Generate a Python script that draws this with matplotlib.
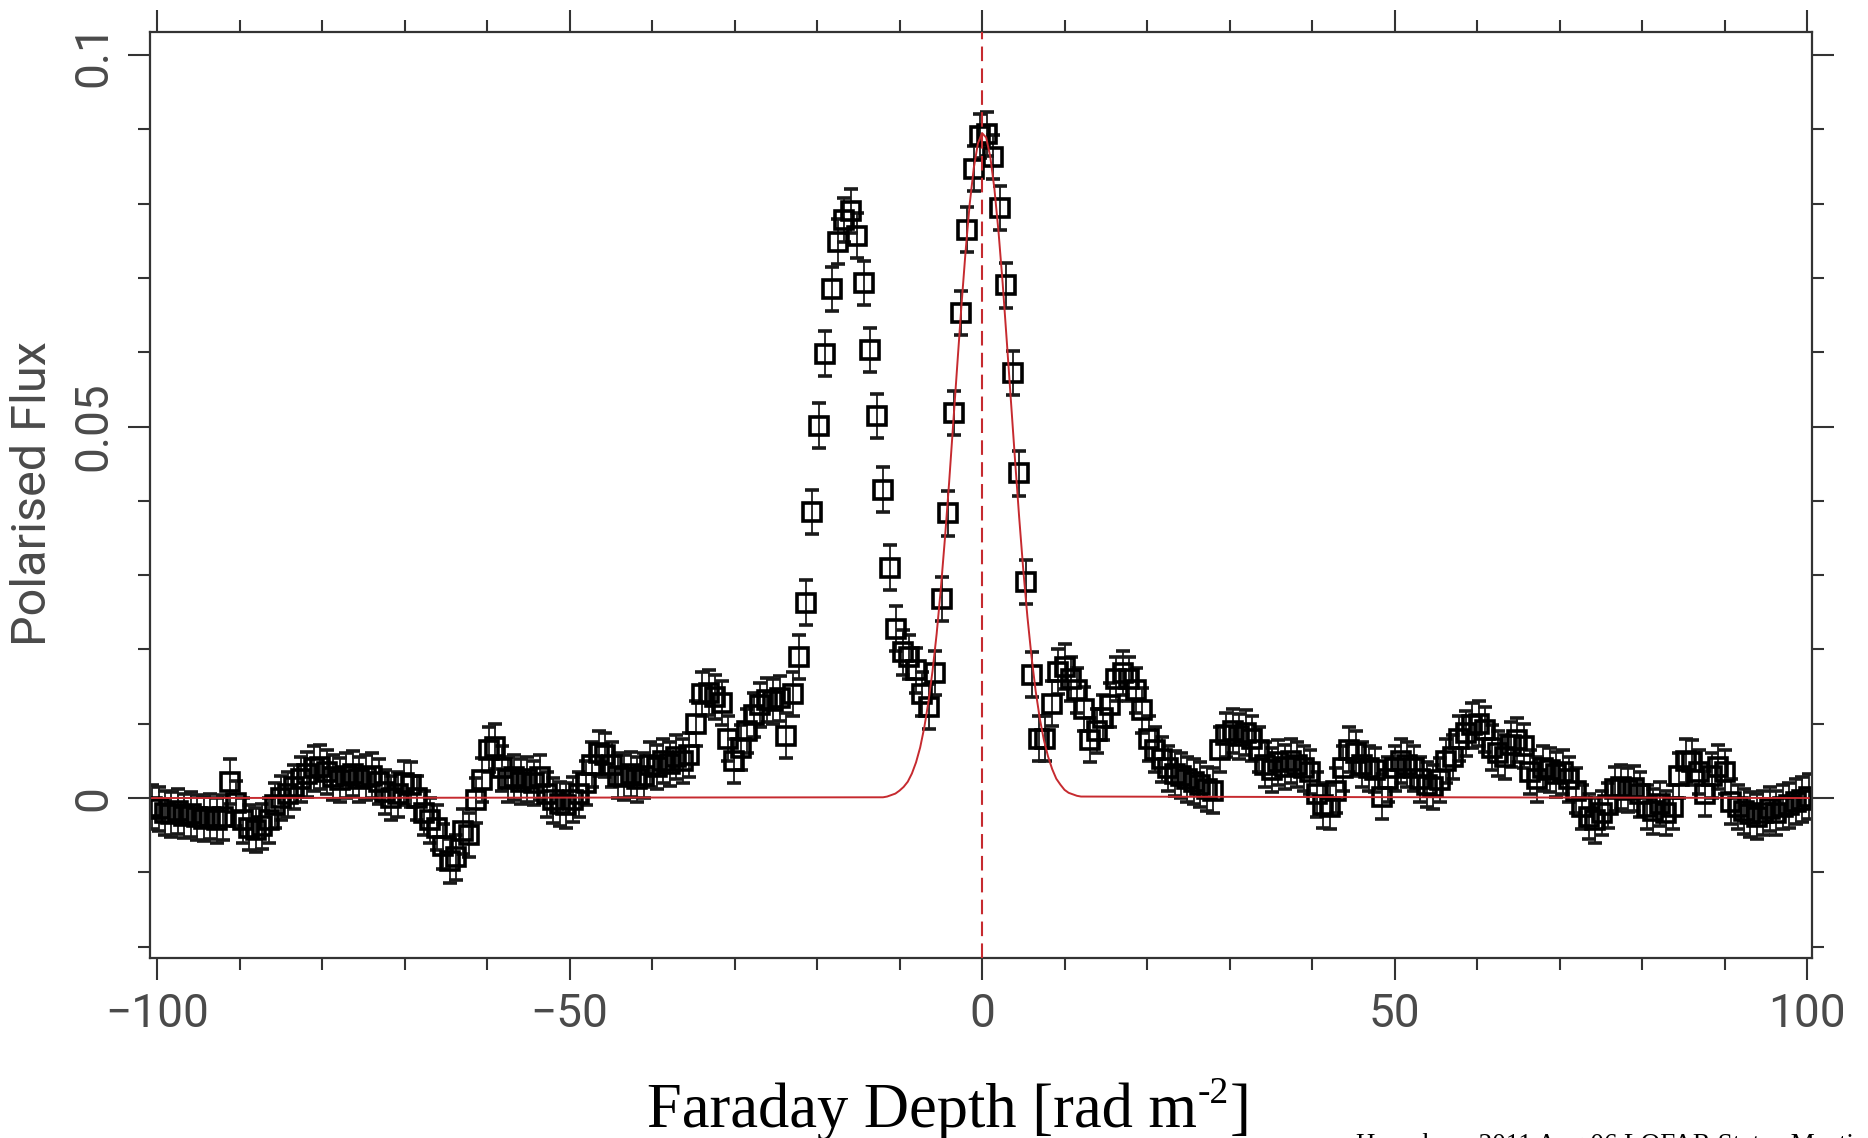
import numpy as np
import matplotlib
matplotlib.use("Agg")
import matplotlib.pyplot as plt

plt.rcParams['font.family'] = ['Roboto', 'DejaVu Sans']

# Faraday depth grid (rad m^-2), 257 samples across the plot
depth = np.linspace(-100.6, 100.2, 257)

# polarised flux
flux = [
    -0.0012, -0.0015, -0.0020, -0.0022, -0.0018, -0.0024, -0.0022, -0.0026, -0.0028, -0.0025,
    -0.0030, -0.0026, 0.0022, -0.0007, -0.0030, -0.0040, -0.0043, -0.0038, -0.0030, -0.0010,
    0.0000, 0.0005, 0.0015, 0.0025, 0.0032, 0.0040, 0.0042, 0.0035, 0.0028, 0.0024,
    0.0030, 0.0033, 0.0025, 0.0028, 0.0030, 0.0022, 0.0008, 0.0000, 0.0005, 0.0020,
    0.0018, 0.0000, -0.0020, -0.0030, -0.0040, -0.0065, -0.0085, -0.0080, -0.0045, -0.0050,
    -0.0003, 0.0024, 0.0065, 0.0069, 0.0040, 0.0025, 0.0028, 0.0022, 0.0025, 0.0020,
    0.0028, 0.0005, -0.0003, -0.0008, -0.0010, -0.0002, 0.0005, 0.0020, 0.0045, 0.0060,
    0.0058, 0.0045, 0.0030, 0.0028, 0.0032, 0.0025, 0.0030, 0.0045, 0.0042, 0.0050,
    0.0046, 0.0055, 0.0050, 0.0058, 0.0100, 0.0140, 0.0142, 0.0136, 0.0128, 0.0080,
    0.0050, 0.0068, 0.0090, 0.0112, 0.0125, 0.0132, 0.0130, 0.0134, 0.0084, 0.0140,
    0.0190, 0.0263, 0.0385, 0.0501, 0.0598, 0.0685, 0.0749, 0.0778, 0.0790, 0.0757,
    0.0693, 0.0603, 0.0514, 0.0415, 0.0310, 0.0228, 0.0196, 0.0190, 0.0172, 0.0140,
    0.0123, 0.0168, 0.0268, 0.0383, 0.0518, 0.0653, 0.0765, 0.0847, 0.0891, 0.0894,
    0.0863, 0.0794, 0.0690, 0.0572, 0.0437, 0.0291, 0.0166, 0.0080, 0.0080, 0.0127,
    0.0170, 0.0177, 0.0160, 0.0145, 0.0120, 0.0078, 0.0090, 0.0108, 0.0125, 0.0160,
    0.0168, 0.0160, 0.0145, 0.0118, 0.0080, 0.0065, 0.0052, 0.0040, 0.0033, 0.0030,
    0.0025, 0.0022, 0.0018, 0.0012, 0.0010, 0.0065, 0.0085, 0.0090, 0.0083, 0.0088,
    0.0080, 0.0065, 0.0045, 0.0038, 0.0048, 0.0042, 0.0050, 0.0045, 0.0040, 0.0035,
    0.0005, -0.0010, -0.0012, 0.0010, 0.0040, 0.0065, 0.0060, 0.0045, 0.0040, 0.0038,
    0.0002, 0.0025, 0.0040, 0.0050, 0.0045, 0.0040, 0.0025, 0.0018, 0.0015, 0.0024,
    0.0050, 0.0055, 0.0080, 0.0087, 0.0098, 0.0100, 0.0092, 0.0068, 0.0060, 0.0055,
    0.0072, 0.0078, 0.0070, 0.0035, 0.0025, 0.0040, 0.0038, 0.0032, 0.0035, 0.0025,
    0.0010, -0.0012, -0.0025, -0.0030, -0.0020, -0.0010, 0.0012, 0.0015, 0.0011, 0.0013,
    0.0005, -0.0012, -0.0018, -0.0008, -0.0020, -0.0012, 0.0030, 0.0050, 0.0048, 0.0035,
    0.0006, 0.0030, 0.0042, 0.0035, -0.0005, -0.0012, -0.0018, -0.0022, -0.0025, -0.0020,
    -0.0015, -0.0020, -0.0012, -0.0010, -0.0005, -0.0002, 0.0002,
]
flux_err = 0.003

# red fitted component
fit_x = [-100.6, -12.0, -11.5, -11.0, -10.5, -10.0, -9.5, -9.0, -8.5, -8.0, -7.5, -7.0,
         -6.5, -6.0, -5.5, -5.0, -4.5, -4.0, -3.5, -3.0, -2.5, -2.0, -1.5, -1.0, -0.5,
         0.0, 0.5, 1.0, 1.5, 2.0, 2.5, 3.0, 3.5, 4.0, 4.5, 5.0, 5.5, 6.0, 6.5, 7.0, 7.5,
         8.0, 8.5, 9.0, 9.5, 10.0, 10.5, 11.0, 11.5, 12.0, 100.2]
fit_y = [0.0, 0.0001, 0.0002, 0.0004, 0.0006, 0.0010, 0.0015, 0.0022, 0.0033, 0.0048,
         0.0068, 0.0095, 0.0129, 0.0171, 0.0221, 0.0281, 0.0349, 0.0423, 0.0503, 0.0583,
         0.0662, 0.0735, 0.0799, 0.0848, 0.0881, 0.0895, 0.0889, 0.0863, 0.0820, 0.0762,
         0.0693, 0.0615, 0.0535, 0.0455, 0.0378, 0.0307, 0.0244, 0.0190, 0.0144, 0.0107,
         0.0078, 0.0056, 0.0039, 0.0026, 0.0018, 0.0011, 0.0007, 0.0005, 0.0003, 0.0002, 0.0]

xticks_major = [-100, -50, 0, 50, 100]
xtick_labels = ['\u2212100', '\u221250', '0', '50', '100']
xticks_minor = [-90, -80, -70, -60, -40, -30, -20, -10, 10, 20, 30, 40, 60, 70, 80, 90]
yticks_major = [0.0, 0.05, 0.1]
ytick_labels = ['0', '0.05', '0.1']
yticks_minor = [-0.02, -0.01, 0.01, 0.02, 0.03, 0.04, 0.06, 0.07, 0.08, 0.09]

W, H = 1868, 1138
fig = plt.figure(figsize=(W / 100, H / 100), dpi=100)
ax = fig.add_axes([150 / W, 1 - 958 / H, (1812 - 150) / W, (958 - 32) / H])

red = '#c62a2f'
ink = '#333333'
grey_txt = '#4a4a4a'

ax.errorbar(depth, flux, yerr=flux_err, fmt='s', ms=12.5, mfc='none', mec='black',
            mew=2.6, ecolor='#1a1a1a', elinewidth=1.3, capsize=4.8, capthick=1.3, zorder=2)
ax.plot(fit_x, fit_y, color=red, lw=1.4, zorder=3)
ax.axvline(0, color=red, lw=1.5, ls=(0, (7, 3.5)), zorder=3)

ax.set_xlim(-100.85, 100.6)
ax.set_ylim(-0.02153, 0.1031)

ax.set_xticks(xticks_major)
ax.set_xticklabels(xtick_labels)
ax.set_xticks(xticks_minor, minor=True)
ax.set_yticks(yticks_major)
ax.set_yticklabels(ytick_labels)
ax.set_yticks(yticks_minor, minor=True)

ax.tick_params(which='both', direction='out', top=True, right=True, color=ink, width=1.5)
ax.tick_params(which='major', length=15.8)
ax.tick_params(which='minor', length=8.6)
ax.tick_params(axis='x', which='major', labelcolor=grey_txt, pad=9)
ax.tick_params(axis='y', which='major', labelcolor=grey_txt, pad=9, labelrotation=90)
for lab in ax.get_xticklabels() + ax.get_yticklabels():
    lab.set_fontsize(33)
for lab in ax.get_yticklabels():
    lab.set_va('center')

for s in ax.spines.values():
    s.set_linewidth(1.6)
    s.set_color(ink)

fig.text(33 / W, 1 - 494 / H, 'Polarised Flux', rotation=90, ha='center', va='center',
         fontsize=35, color=grey_txt)

# x label built from pieces so the superscript uses a plain hyphen
serif = dict(family='Liberation Serif', color='black', va='baseline', ha='left')
base_y = 1 - 1127 / H
t_main = fig.text(0, base_y, 'Faraday Depth [rad m', fontsize=45, **serif)
t_sup = fig.text(0, base_y + 24 / H, '-2', fontsize=27, **serif)
t_end = fig.text(0, base_y, ']', fontsize=45, **serif)
rend = fig.canvas.get_renderer()
w_main = t_main.get_window_extent(rend).width
w_sup = t_sup.get_window_extent(rend).width
w_end = t_end.get_window_extent(rend).width
x0 = 948 - (w_main + w_sup + w_end) / 2
t_main.set_x(x0 / W)
t_sup.set_x((x0 + w_main + 1) / W)
t_end.set_x((x0 + w_main + w_sup + 2) / W)

fig.text(1356 / W, 1 - 1152 / H, 'Haverkorn 2011 Aug 06 LOFAR Status Meeting', ha='left',
         va='baseline', fontsize=19.5, family='Liberation Serif', color='black')

fig.savefig('out.png', dpi=100)
